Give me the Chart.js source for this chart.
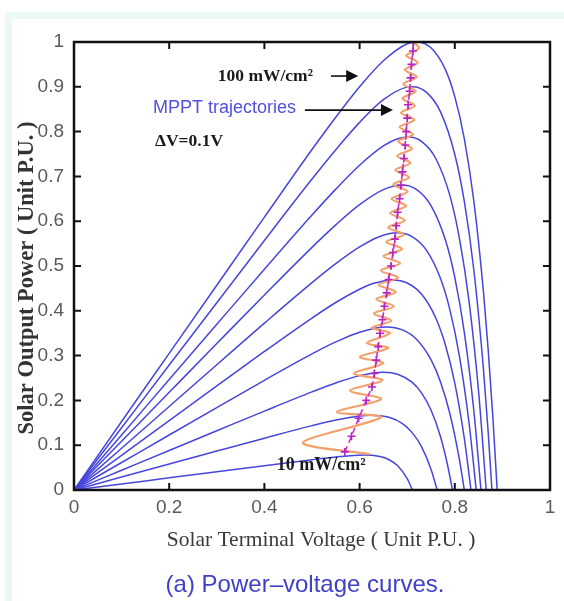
<!DOCTYPE html>
<html>
<head>
<meta charset="utf-8">
<script src="https://cdn.jsdelivr.net/npm/chart.js@4.4.1/dist/chart.umd.min.js"></script>
<style>
  html, body { margin: 0; padding: 0; background: #fff; }
  #wrap { position: relative; width: 564px; height: 601px; overflow: hidden; }
  #frame { position: absolute; left: 5px; top: 12px; width: 620px; height: 640px;
           border: 7px solid #ecf8f6; box-sizing: border-box; }
  canvas { position: absolute; left: 0; top: 0; }
</style>
</head>
<body>
<div id="wrap">
  <div id="frame"></div>
  <canvas id="pvChart" width="564" height="601"></canvas>
</div>
<script>
// P-V curves per irradiance level, [voltage, power] in per-unit
const c10 = [[0,0],[0.1,0.0135],[0.2,0.0271],[0.3,0.0406],[0.4,0.0542],[0.5,0.0675],[0.55,0.0737],[0.58,0.0767],[0.61,0.078],[0.64,0.0753],[0.66,0.0686],[0.68,0.0541],[0.7,0.0255],[0.711,0]];
const c20 = [[0,0],[0.1,0.029],[0.2,0.0579],[0.3,0.0869],[0.4,0.1157],[0.5,0.1437],[0.55,0.1562],[0.6,0.1653],[0.627,0.167],[0.66,0.1628],[0.69,0.1482],[0.71,0.1286],[0.73,0.0967],[0.75,0.0465],[0.763,0]];
const c30 = [[0,0],[0.1,0.0441],[0.2,0.0882],[0.3,0.1322],[0.4,0.1761],[0.5,0.219],[0.55,0.2389],[0.6,0.2553],[0.65,0.263],[0.68,0.2585],[0.71,0.2407],[0.73,0.2169],[0.75,0.1784],[0.77,0.1188],[0.785,0.0547],[0.795,0]];
const c40 = [[0,0],[0.1,0.0614],[0.2,0.1228],[0.3,0.184],[0.4,0.2449],[0.5,0.3038],[0.55,0.3305],[0.6,0.3523],[0.656,0.364],[0.69,0.3574],[0.72,0.336],[0.75,0.291],[0.77,0.2413],[0.79,0.169],[0.81,0.0662],[0.82,0]];
const c50 = [[0,0],[0.1,0.0774],[0.2,0.1549],[0.3,0.2322],[0.4,0.3092],[0.5,0.3839],[0.55,0.4185],[0.6,0.4482],[0.63,0.4613],[0.669,0.469],[0.7,0.4621],[0.73,0.4373],[0.76,0.384],[0.78,0.3247],[0.8,0.2385],[0.82,0.1151],[0.834,0]];
const c60 = [[0,0],[0.1,0.0933],[0.2,0.1865],[0.3,0.2796],[0.4,0.3724],[0.5,0.4629],[0.55,0.5053],[0.6,0.5426],[0.64,0.5649],[0.679,0.574],[0.71,0.5658],[0.74,0.536],[0.77,0.472],[0.79,0.401],[0.81,0.297],[0.83,0.149],[0.845,0]];
const c70 = [[0,0],[0.1,0.109],[0.2,0.218],[0.3,0.3269],[0.4,0.4353],[0.5,0.5416],[0.55,0.5918],[0.6,0.6369],[0.65,0.6706],[0.688,0.681],[0.72,0.6707],[0.75,0.635],[0.78,0.559],[0.8,0.4746],[0.82,0.3517],[0.84,0.1767],[0.855,0]];
const c80 = [[0,0],[0.1,0.123],[0.2,0.2466],[0.3,0.3698],[0.4,0.4927],[0.5,0.6137],[0.55,0.6716],[0.6,0.725],[0.65,0.768],[0.68,0.7839],[0.704,0.788],[0.73,0.778],[0.76,0.74],[0.79,0.656],[0.81,0.56],[0.83,0.4206],[0.85,0.2196],[0.866,0]];
const c90 = [[0,0],[0.1,0.139],[0.2,0.279],[0.3,0.418],[0.4,0.557],[0.5,0.694],[0.55,0.7596],[0.6,0.8206],[0.65,0.8712],[0.7,0.8993],[0.711,0.9],[0.74,0.888],[0.77,0.844],[0.8,0.749],[0.82,0.644],[0.84,0.491],[0.86,0.272],[0.87,0.131],[0.878,0]];
const c100 = [[0,0],[0.1,0.153],[0.2,0.305],[0.3,0.457],[0.4,0.609],[0.5,0.76],[0.55,0.832],[0.6,0.9],[0.65,0.958],[0.7,0.996],[0.72,1.0],[0.75,0.987],[0.78,0.939],[0.8,0.878],[0.82,0.784],[0.84,0.645],[0.86,0.445],[0.87,0.315],[0.88,0.162],[0.889,0]];

const levels = ['10 mW/cm²','20 mW/cm²','30 mW/cm²','40 mW/cm²','50 mW/cm²','60 mW/cm²','70 mW/cm²','80 mW/cm²','90 mW/cm²','100 mW/cm²'];
const curves = [c10, c20, c30, c40, c50, c60, c70, c80, c90, c100];

// perturb & observe operating point (dV = 0.1V steps)
const mpptPath = [[0.622,0.080],[0.481,0.106],[0.645,0.162],[0.552,0.174],[0.645,0.203],[0.580,0.222],[0.648,0.245],[0.588,0.260],[0.650,0.283],[0.601,0.297],[0.660,0.317],[0.615,0.328],[0.664,0.350],[0.625,0.362],[0.667,0.378],[0.630,0.394],[0.672,0.410],[0.635,0.426],[0.676,0.442],[0.640,0.458],[0.681,0.474],[0.645,0.490],[0.685,0.506],[0.650,0.522],[0.689,0.538],[0.656,0.554],[0.693,0.570],[0.660,0.586],[0.695,0.602],[0.664,0.618],[0.698,0.634],[0.667,0.650],[0.701,0.666],[0.671,0.682],[0.704,0.698],[0.675,0.714],[0.707,0.730],[0.679,0.746],[0.710,0.762],[0.681,0.778],[0.712,0.794],[0.684,0.810],[0.715,0.826],[0.687,0.842],[0.716,0.858],[0.690,0.874],[0.718,0.890],[0.692,0.906],[0.720,0.922],[0.695,0.938],[0.722,0.954],[0.698,0.970],[0.725,0.986],[0.713,1.0]];
// mean operating point
const mpptMean = [[0.569,0.085],[0.583,0.12],[0.598,0.16],[0.614,0.2],[0.626,0.23],[0.631,0.26],[0.635,0.29],[0.639,0.32],[0.643,0.35],[0.648,0.38],[0.652,0.41],[0.657,0.44],[0.661,0.47],[0.666,0.50],[0.670,0.53],[0.674,0.56],[0.677,0.59],[0.680,0.62],[0.684,0.65],[0.687,0.68],[0.690,0.71],[0.693,0.74],[0.696,0.77],[0.698,0.80],[0.700,0.83],[0.702,0.86],[0.705,0.89],[0.707,0.92],[0.709,0.95],[0.712,0.98],[0.713,1.0]];

const xTickVals = [0, 0.2, 0.4, 0.6, 0.8, 1];
const yTickVals = [0, 0.1, 0.2, 0.3, 0.4, 0.5, 0.6, 0.7, 0.8, 0.9, 1];

const toXY = arr => arr.map(p => ({x: p[0], y: p[1]}));
const tickText = v => String(+v.toFixed(1));

const datasets = [{
  label: 'MPPT mean',
  data: toXY(mpptMean),
  borderColor: '#cc30c8',
  borderWidth: 1.6,
  borderDash: [6, 4],
  pointStyle: 'cross',
  pointRadius: 4,
  pointBorderWidth: 1.6,
  pointBorderColor: '#b824c4',
  showLine: true,
  tension: 0,
  order: 0
}, {
  label: 'MPPT trajectories',
  data: toXY(mpptPath),
  borderColor: '#f4a06c',
  borderWidth: 2.2,
  pointRadius: 0,
  showLine: true,
  tension: 0.3,
  order: 1
}];
curves.forEach((c, i) => {
  datasets.push({
    label: levels[i],
    data: toXY(c),
    borderColor: '#4646dc',
    borderWidth: 1.5,
    pointRadius: 0,
    showLine: true,
    cubicInterpolationMode: 'monotone',
    order: 2
  });
});

function arrow(ctx, x1, x2, y) {
  ctx.beginPath();
  ctx.moveTo(x1, y);
  ctx.lineTo(x2 - 10, y);
  ctx.stroke();
  ctx.beginPath();
  ctx.moveTo(x2, y);
  ctx.lineTo(x2 - 12, y - 6);
  ctx.lineTo(x2 - 12, y + 6);
  ctx.closePath();
  ctx.fill();
}

// box, inward ticks, titles and notes
const frameAndNotes = {
  id: 'frameAndNotes',
  afterDatasetsDraw(chart) {
    const {ctx, chartArea: a, scales: {x, y}} = chart;
    ctx.save();
    ctx.strokeStyle = '#111';
    ctx.lineWidth = 2;
    ctx.beginPath();
    xTickVals.forEach(v => {
      const px = x.getPixelForValue(v);
      ctx.moveTo(px, a.bottom); ctx.lineTo(px, a.bottom - 7);
      ctx.moveTo(px, a.top); ctx.lineTo(px, a.top + 7);
    });
    yTickVals.forEach(v => {
      const py = y.getPixelForValue(v);
      ctx.moveTo(a.left, py); ctx.lineTo(a.left + 7, py);
      ctx.moveTo(a.right, py); ctx.lineTo(a.right - 7, py);
    });
    ctx.stroke();
    ctx.lineWidth = 2.5;
    ctx.strokeRect(a.left, a.top, a.width, a.height);

    // notes inside the plot
    ctx.fillStyle = '#1a1a1a';
    ctx.textBaseline = 'middle';
    ctx.textAlign = 'left';
    ctx.font = 'bold 17.5px "Liberation Serif"';
    ctx.fillText('100 mW/cm²', x.getPixelForValue(0.302), y.getPixelForValue(0.924));
    ctx.fillText('ΔV=0.1V', x.getPixelForValue(0.170), y.getPixelForValue(0.777));
    ctx.font = 'bold 18px "Liberation Serif"';
    ctx.fillText('10 mW/cm²', x.getPixelForValue(0.426), y.getPixelForValue(0.054));
    ctx.fillStyle = '#5050e0';
    ctx.font = '18px "Liberation Sans"';
    ctx.fillText('MPPT trajectories', x.getPixelForValue(0.166), y.getPixelForValue(0.853));

    ctx.strokeStyle = '#111';
    ctx.fillStyle = '#111';
    ctx.lineWidth = 1.6;
    arrow(ctx, x.getPixelForValue(0.540), x.getPixelForValue(0.597), y.getPixelForValue(0.924));
    arrow(ctx, x.getPixelForValue(0.485), x.getPixelForValue(0.670), y.getPixelForValue(0.848));

    // axis titles
    ctx.textAlign = 'center';
    ctx.fillStyle = '#3a3a3a';
    ctx.font = '21.5px "Liberation Serif"';
    ctx.fillText('Solar Terminal Voltage ( Unit P.U. )', 321, 540);
    ctx.save();
    ctx.translate(27, 278);
    ctx.rotate(-Math.PI / 2);
    ctx.font = 'bold 22.5px "Liberation Serif"';
    ctx.fillStyle = '#333';
    ctx.fillText('Solar Output Power ( Unit P.U. )', 0, 0);
    ctx.restore();

    // caption
    ctx.fillStyle = '#4040c8';
    ctx.font = '24px "Liberation Sans"';
    ctx.fillText('(a) Power–voltage curves.', 305, 585);
    ctx.restore();
  }
};

new Chart(document.getElementById('pvChart'), {
  type: 'scatter',
  data: { datasets },
  options: {
    responsive: false,
    animation: false,
    layout: { padding: { left: 0, top: 42, right: 14, bottom: 0 } },
    plugins: { legend: { display: false }, tooltip: { enabled: false } },
    scales: {
      x: {
        type: 'linear', min: 0, max: 1,
        afterBuildTicks: s => { s.ticks = xTickVals.map(v => ({value: v})); },
        afterFit: s => { s.height = 111; },
        grid: { display: false, drawTicks: false },
        border: { display: false },
        ticks: { color: '#5a5a5a', padding: 6, callback: tickText,
                 font: { family: 'Liberation Sans', size: 19 } }
      },
      y: {
        type: 'linear', min: 0, max: 1,
        afterBuildTicks: s => { s.ticks = yTickVals.map(v => ({value: v})); },
        afterFit: s => { s.width = 74; },
        grid: { display: false, drawTicks: false },
        border: { display: false },
        ticks: { color: '#5a5a5a', padding: 10, callback: tickText,
                 font: { family: 'Liberation Sans', size: 19 } }
      }
    }
  },
  plugins: [frameAndNotes]
});
</script>
</body>
</html>
